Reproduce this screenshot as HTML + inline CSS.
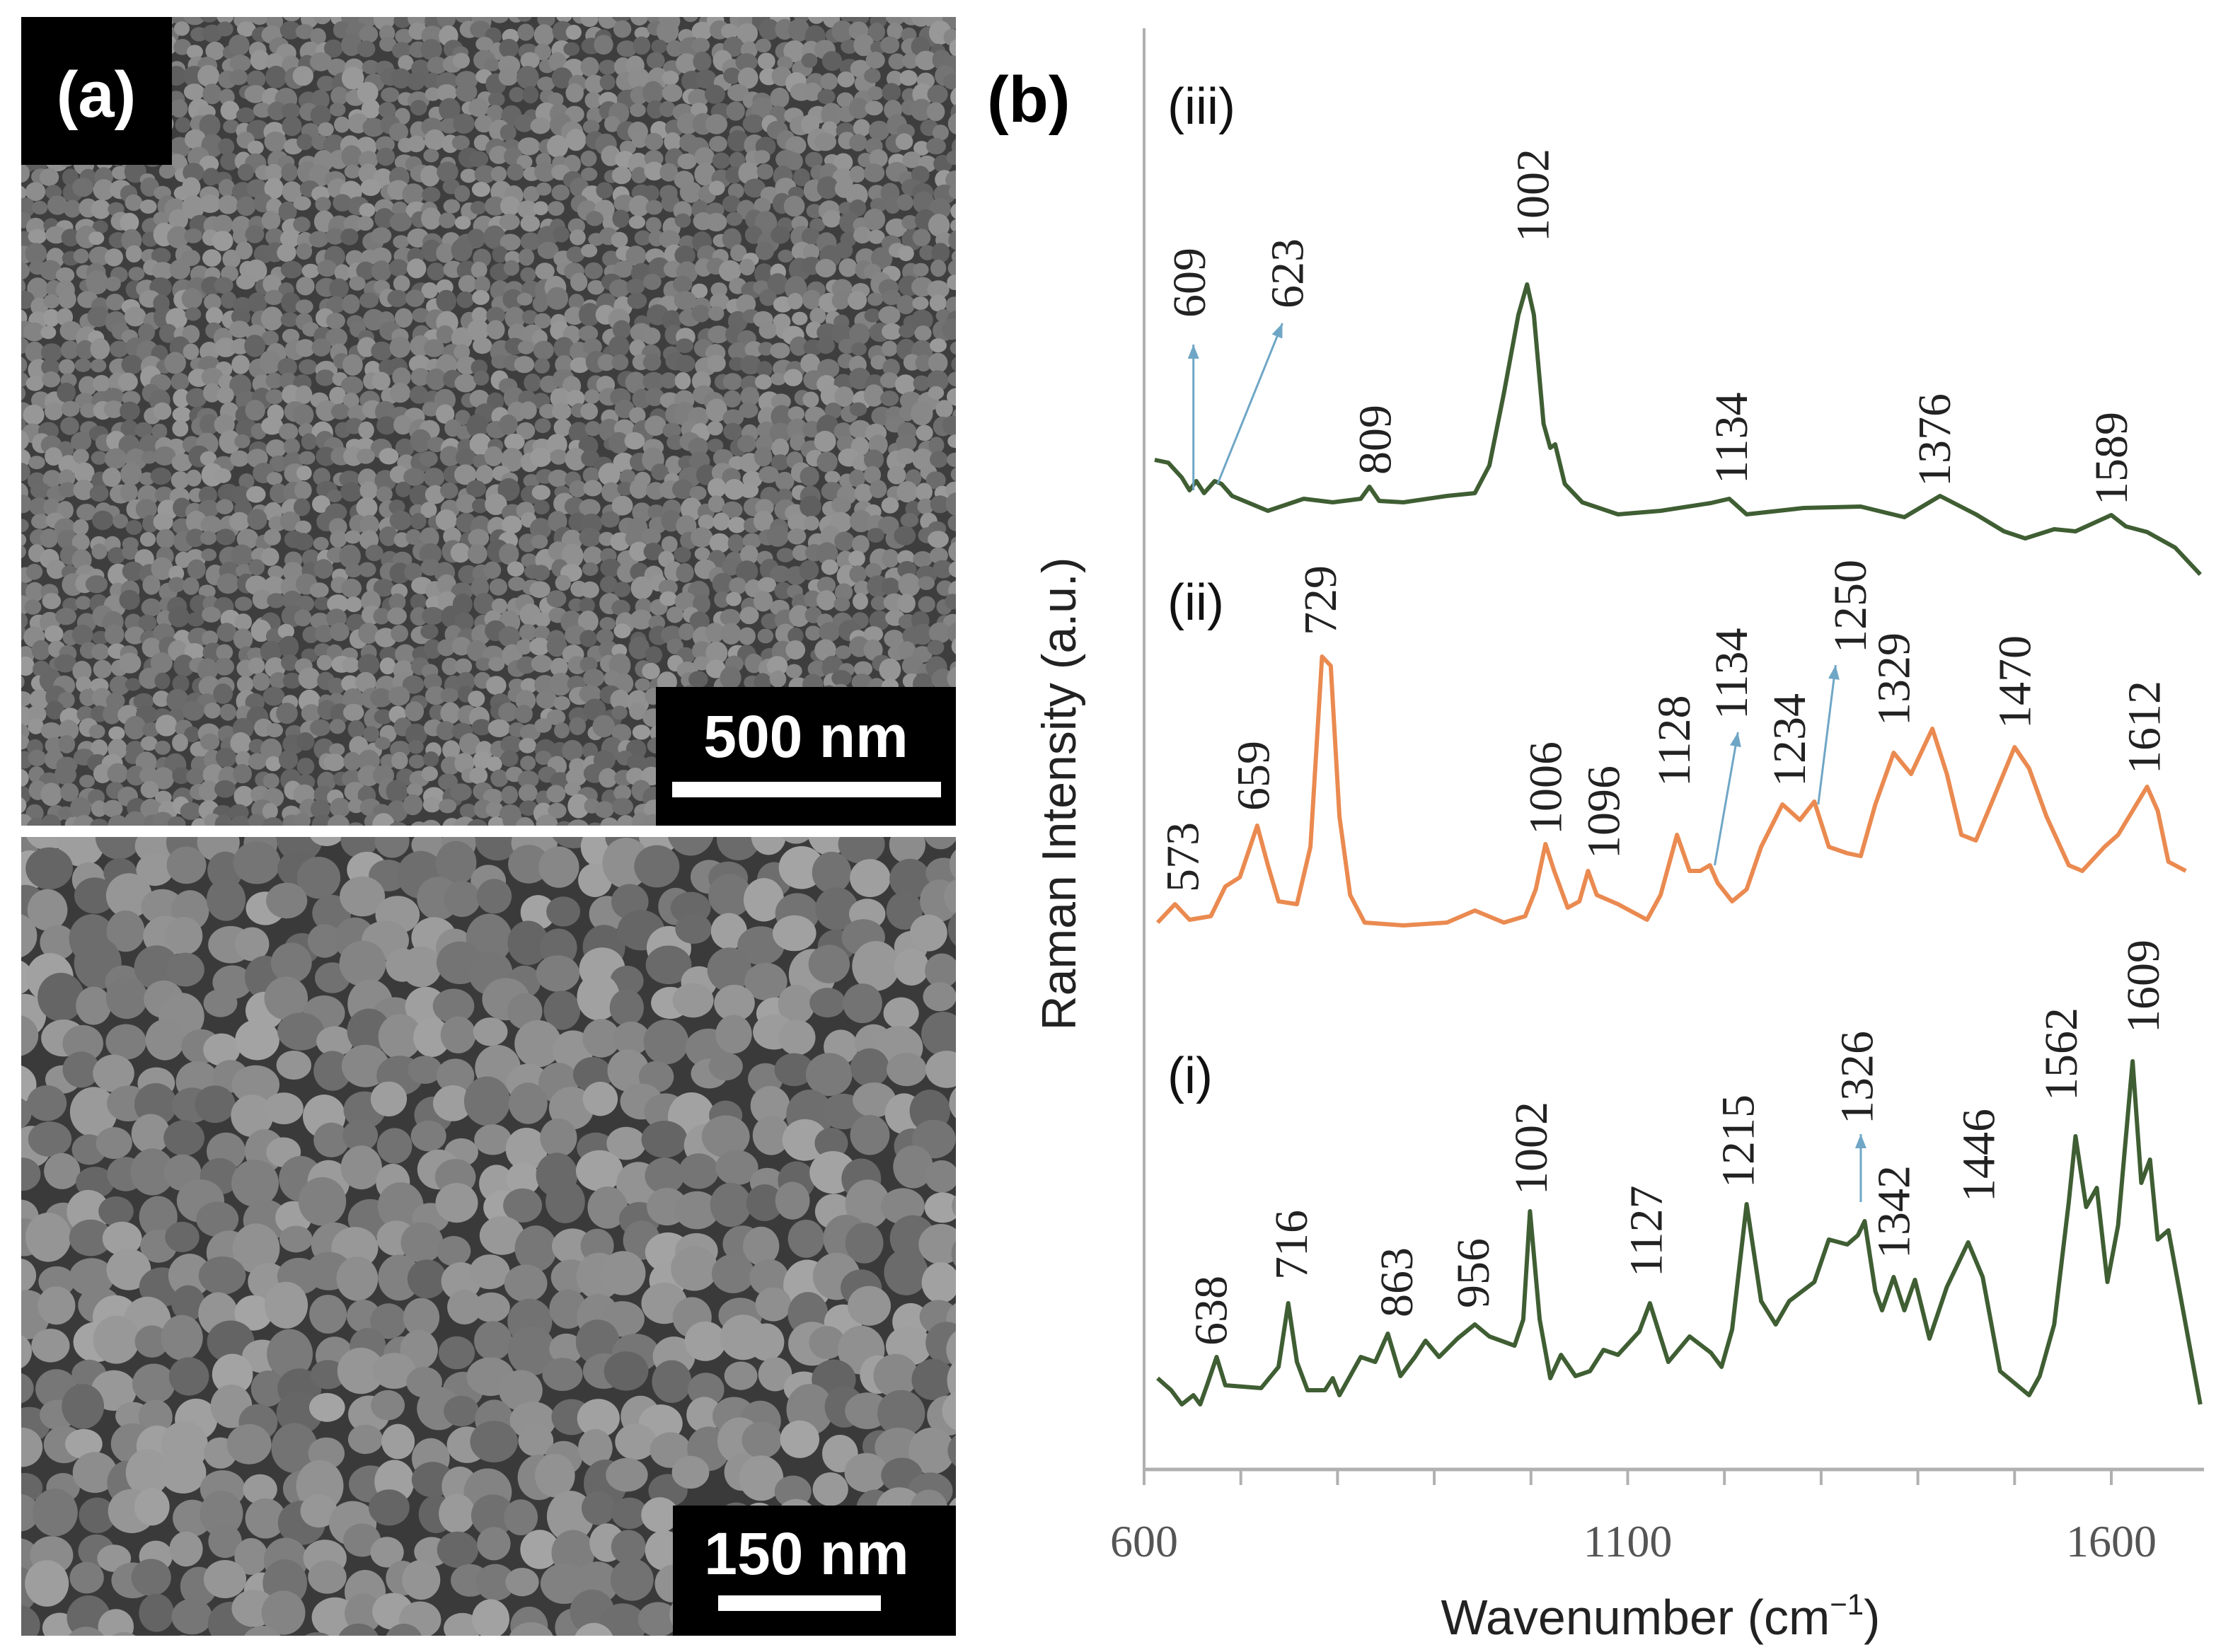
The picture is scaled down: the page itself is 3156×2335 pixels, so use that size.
<!DOCTYPE html>
<html><head><meta charset="utf-8"><style>
html,body{margin:0;padding:0;background:#fff;}
svg{display:block;}
</style></head><body>
<svg id="fig" width="3156" height="2335" viewBox="0 0 3156 2335" xmlns="http://www.w3.org/2000/svg">
<defs>
<clipPath id="clipTop"><rect x="30" y="24" width="1321" height="1143"/></clipPath>
<clipPath id="clipBot"><rect x="30" y="1183" width="1321" height="1129"/></clipPath>
</defs>
<g id="semTop" clip-path="url(#clipTop)"><rect x="30" y="24" width="1321" height="1143" fill="#3e3e3e"/></g>
<g id="semBot" clip-path="url(#clipBot)"><rect x="30" y="1183" width="1321" height="1129" fill="#3a3a3a"/></g>
<g><rect x="30" y="24" width="213" height="209" fill="#000"/><text x="136" y="165" text-anchor="middle" font-family="Liberation Sans, sans-serif" font-weight="bold" font-size="92" fill="#fff">(a)</text></g>
<g><rect x="927" y="971" width="424" height="196" fill="#000"/><text x="1139" y="1070" text-anchor="middle" font-family="Liberation Sans, sans-serif" font-weight="bold" font-size="84" fill="#fff">500 nm</text><rect x="950" y="1105" width="380" height="22" fill="#fff"/></g>
<g><rect x="951" y="2128" width="400" height="184" fill="#000"/><text x="1140" y="2225" text-anchor="middle" font-family="Liberation Sans, sans-serif" font-weight="bold" font-size="84" fill="#fff">150 nm</text><rect x="1015" y="2255" width="230" height="22" fill="#fff"/></g>
<text x="1395" y="172" font-family="Liberation Sans, sans-serif" font-weight="bold" font-size="92" fill="#000">(b)</text>
<text transform="translate(1520,1122) rotate(-90)" text-anchor="middle" font-family="Liberation Sans, sans-serif" font-size="68" fill="#222">Raman Intensity (a.u.)</text>
<text x="2347" y="2310" text-anchor="middle" font-family="Liberation Sans, sans-serif" font-size="70" fill="#222">Wavenumber (cm<tspan font-size="42" dy="-28">−1</tspan><tspan dy="28">)</tspan></text>
<g id="chart"></g>
</svg>
<script>
// ---------- chart data ----------
const xTicks = [600,700,800,900,1000,1100,1200,1300,1400,1500,1600];
const xTickLabels = ["600","1100","1600"];
const wIII = [611,625,639,647,654,662,673,680,691,728,765,795,824,833,843,868,913,942,957,972,987,996,1003,1013,1020,1025,1035,1053,1090,1134,1186,1205,1223,1282,1341,1386,1423,1460,1489,1511,1541,1563,1600,1615,1637,1666,1692];
const vIII = [200,196,175,157,170,153,170,166,149,128,145,140,145,162,142,140,149,153,192,294,405,448,405,251,217,222,166,140,123,128,139,145,123,132,134,119,149,123,99,89,102,99,122,106,98,76,38];
const wII = [614,632,647,669,684,699,717,728,739,758,772,784,793,802,813,828,868,913,942,972,994,1005,1015,1024,1038,1050,1059,1068,1090,1120,1134,1151,1164,1175,1185,1193,1208,1223,1238,1260,1278,1293,1308,1327,1341,1356,1375,1393,1415,1430,1445,1460,1478,1500,1515,1533,1556,1570,1593,1607,1622,1637,1648,1659,1677];
const vII = [46,72,50,55,97,110,183,127,76,72,153,422,409,196,85,46,42,46,63,46,55,93,157,119,67,76,119,85,72,50,85,170,119,119,127,102,76,93,153,213,191,217,153,144,140,213,286,256,320,256,170,162,221,294,264,196,127,119,153,170,204,238,204,132,119];
const wI = [614,628,639,651,658,665,675,684,721,739,749,758,769,787,795,802,824,839,852,865,880,891,905,924,942,957,983,992,999,1009,1020,1031,1046,1061,1075,1090,1112,1123,1142,1164,1186,1197,1208,1223,1238,1253,1267,1293,1308,1327,1338,1345,1356,1363,1375,1386,1397,1412,1430,1452,1467,1485,1515,1526,1541,1556,1563,1574,1585,1596,1607,1622,1631,1640,1648,1659,1692];
const vI = [102,85,65,78,65,92,132,92,88,118,208,125,85,85,102,78,132,125,165,105,132,155,132,158,178,161,148,185,338,185,102,135,105,112,142,135,168,208,125,161,138,118,171,348,211,178,211,238,298,291,304,324,225,198,245,198,241,158,231,294,245,112,78,105,178,351,444,344,371,238,318,550,378,411,298,311,65];
// peak annotations
const lblIII = ["609","623","809","1002","1134","1376","1589"];
const lwIII = [647,748,839,1002,1207,1417,1600];
const lvIII = [401,414,179,508,166,162,136];
const lblII = ["573","659","729","1006","1096","1128","1134","1234","1250","1329","1470","1612"];
const lwII = [640,713,782,1015,1075,1148,1207,1267,1330,1375,1500,1634];
const lvII = [89,204,452,170,136,238,333,238,427,324,320,256];
const lblI = ["638","716","863","956","1002","1127","1215","1326","1342","1446","1562","1609"];
const lwI = [669,752,861,940,1000,1119,1214,1337,1375,1463,1548,1633];
const lvI = [148,241,188,201,361,245,371,461,271,351,494,590];
// arrows [w0,v0,w1,v1]
const arrIII = [[651,157,651,363],[676,166,743,393]];
const arrII = [[1190,127,1214,315],[1297,213,1315,410]];
const arrI = [[1341,351,1341,447]];

// ---------- scales ----------
const X0 = 1617, PX = 1.367;
function xs(w){ return X0 + (w-600)*PX; }
function ys(base, v){ return base - v; }
const baseIII = 850, baseII = 1350, baseI = 2050, axisY = 2077;
const NS = "http://www.w3.org/2000/svg";
const chart = document.getElementById('chart');
function mk(tag, attrs, parent){ const e=document.createElementNS(NS,tag); for(const k in attrs) e.setAttribute(k,attrs[k]); (parent||chart).appendChild(e); return e; }

// axes
const yAxis = mk('line',{x1:X0,y1:40,x2:X0,y2:axisY,stroke:'#b0b0b0','stroke-width':4});


const xAxis = mk('line',{x1:X0,y1:axisY,x2:3115,y2:axisY,stroke:'#b0b0b0','stroke-width':5});


xTicks.forEach(t=>{
  const tk = mk('line',{x1:xs(t),y1:axisY,x2:xs(t),y2:axisY+22,stroke:'#b0b0b0','stroke-width':4});
  
  
});
xTickLabels.forEach(s=>{
  const t = mk('text',{x:xs(+s),y:2200,'text-anchor':'middle','font-family':'Liberation Serif, serif','font-size':64,fill:'#555'});
  t.textContent = s;
  
  
});

function series(ws, vs, base, color, name){
  const d = ws.map((w,i)=>(i?'L':'M')+xs(w).toFixed(1)+','+ys(base,vs[i]).toFixed(1)).join(' ');
  const p = mk('path',{d:d,fill:'none',stroke:color,'stroke-width':6,'stroke-linejoin':'round'});
  
  
}
function labels(txt, ws, vs, base, name){
  txt.forEach((s,i)=>{
    const x = xs(ws[i]), y = ys(base, vs[i]);
    const t = mk('text',{transform:'translate('+(x+22)+','+y+') rotate(-90)','font-family':'Liberation Serif, serif','font-size':66,fill:'#222'});
    t.textContent = s;
    
    
  });
}
function arrows(arr, base, name){
  arr.forEach(a=>{
    const x0=xs(a[0]),y0=ys(base,a[1]),x1=xs(a[2]),y1=ys(base,a[3]);
    const g = mk('g',{});
    
    
    mk('line',{x1:x0,y1:y0,x2:x1,y2:y1,stroke:'#6fa6c6','stroke-width':3},g);
    const ang = Math.atan2(y1-y0,x1-x0), L=20, W=8;
    const bx = x1 - L*Math.cos(ang), by = y1 - L*Math.sin(ang);
    const px = -Math.sin(ang)*W, py = Math.cos(ang)*W;
    mk('polygon',{points:x1+','+y1+' '+(bx+px)+','+(by+py)+' '+(bx-px)+','+(by-py),fill:'#6fa6c6'},g);
  });
}
series(wIII,vIII,baseIII,'#3f5e33','spectrum-iii');
series(wII,vII,baseII,'#ea8a50','spectrum-ii');
series(wI,vI,baseI,'#3f5e33','spectrum-i');
labels(lblIII,lwIII,lvIII,baseIII,'peak-label-iii');
labels(lblII,lwII,lvII,baseII,'peak-label-ii');
labels(lblI,lwI,lvI,baseI,'peak-label-i');
arrows(arrIII,baseIII,'peak-arrow-iii');
arrows(arrII,baseII,'peak-arrow-ii');
arrows(arrI,baseI,'peak-arrow-i');
[['(iii)',175],['(ii)',876],['(i)',1545]].forEach(a=>{
  const t = mk('text',{x:1650,y:a[1],'font-family':'Liberation Sans, sans-serif','font-size':72,fill:'#111'});
  t.textContent = a[0];
  
  
});

// ---------- SEM texture (decorative) ----------
let seed = 12345;
function rnd(){ seed = (seed*1103515245+12345) & 0x7fffffff; return seed/0x7fffffff; }
function grains(gid, x0, y0, w, h, r, lo, span){
  const g = document.getElementById(gid);
  const step = r*1.6;
  for(let y=y0; y<y0+h+step; y+=step){
    for(let x=x0; x<x0+w+step; x+=step){
      const cx = x + (rnd()-0.5)*step*0.6, cy = y + (rnd()-0.5)*step*0.6;
      const rr = r*(0.78+rnd()*0.35);
      const gv = Math.floor(lo + rnd()*span);
      const c = document.createElementNS(NS,'ellipse');
      c.setAttribute('cx',cx.toFixed(1)); c.setAttribute('cy',cy.toFixed(1));
      c.setAttribute('rx',rr.toFixed(1)); c.setAttribute('ry',(rr*(0.8+rnd()*0.3)).toFixed(1));
      c.setAttribute('fill','rgb('+gv+','+gv+','+gv+')');
      g.appendChild(c);
    }
  }
}
grains('semTop',30,24,1321,1143,14,95,60);
grains('semBot',30,1183,1321,1129,30,100,65);
</script>
</body></html>
